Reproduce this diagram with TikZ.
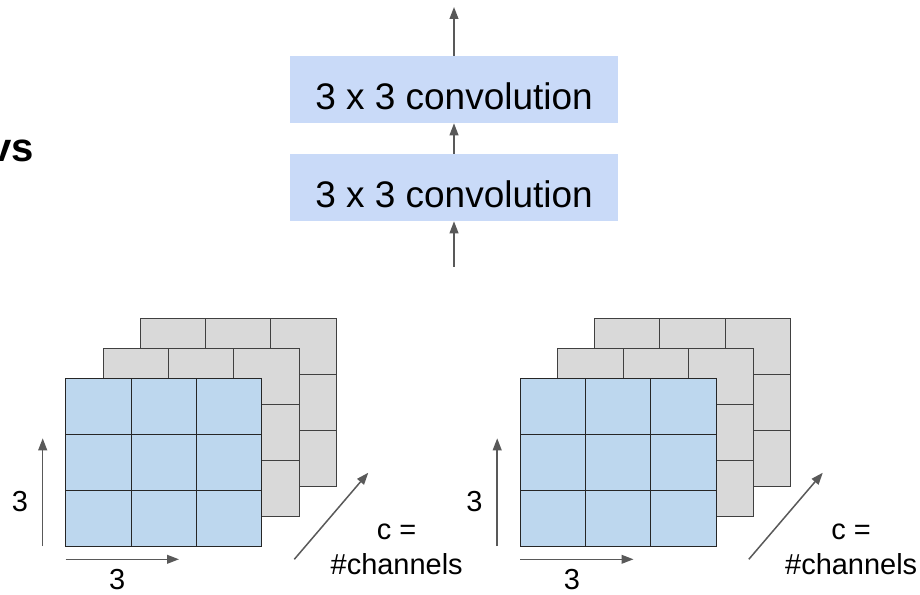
\documentclass[tikz,border=0pt]{standalone}
\usepackage{fontspec}
\setmainfont{Liberation Sans}
\usetikzlibrary{arrows.meta,positioning}
\definecolor{cConv}{HTML}{C9DAF8}
\definecolor{cFront}{HTML}{BDD7EE}
\definecolor{cBack}{HTML}{D9D9D9}
\definecolor{cEdge}{HTML}{595959}
\definecolor{cGrid}{HTML}{404040}
\tikzset{
  conv/.style ={fill=cConv, minimum width=82mm, minimum height=16.75mm,
                inner sep=0pt, text height=10.25mm, text depth=0pt,
                font=\fontsize{26.3}{30}\selectfont},
  flow/.style ={-{Triangle[length=3mm,width=2.2mm]}, line width=0.375mm, draw=cEdge},
  lbl/.style  ={font=\fontsize{20.6}{24.9}\selectfont, inner sep=0pt, align=center},
  ttl/.style  ={font=\bfseries\fontsize{28.5}{32}\selectfont, inner sep=0pt},
  back/.style ={fill=cBack, draw=cGrid, line width=0.25mm},
  front/.style={fill=cFront, draw=black!85, line width=0.25mm},
}
% one 3x3 feature map: top-left x, top-left y, style
\newcommand{\fmap}[3]{%
  \draw[#3] (#1,#2) rectangle ++(196,167.7);
  \foreach \k in {1,2} {
    \draw[#3, fill=none] (#1+\k*65.33,#2) -- ++(0,167.7);
    \draw[#3, fill=none] (#1,#2+\k*55.9) -- ++(196,0);
  }}

\begin{document}
\begin{tikzpicture}[x=0.25mm, y=-0.25mm]
  \useasboundingbox (0,0) rectangle (920,595);

  % ---- cropped heading ----
  \node[ttl, anchor=base east] (ttl) at (34,162) {vs};

  % ---- stacked convolutions ----
  \node[conv] (conv2) at (454,187.5) {3 x 3 convolution};
  \node[conv] (conv1) at (454,89.5) {3 x 3 convolution};
  \coordinate (inlet) at (454,267);
  \coordinate (outlet) at (454,7);

  \draw[flow] (inlet) -- (conv2.south);
  \draw[flow] (conv2.north) -- (conv1.south);
  \draw[flow] (conv1.north) -- (outlet);

  % ---- two 3x3xc receptive fields ----
  \foreach \gx/\g in {0/a, 454.5/b} {
    \fmap{140+\gx}{319}{back}
    \fmap{103.3+\gx}{348.3}{back}
    \fmap{65.7+\gx}{378.3}{front}

    \coordinate (h\g0) at (65.7+\gx,559.3);
    \coordinate (h\g1) at (179+\gx,559.3);
    \coordinate (v\g0) at (42.7+\gx,546);
    \coordinate (v\g1) at (42.7+\gx,438.3);
    \coordinate (d\g0) at (294.3+\gx,559.3);
    \coordinate (d\g1) at (368.3+\gx,472.7);
    \draw[flow] (h\g0) -- (h\g1);
    \draw[flow] (v\g0) -- (v\g1);
    \draw[flow] (d\g0) -- (d\g1);

    \node[lbl] (wd\g) at (117.3+\gx,580) {3};
    \node[lbl] (ht\g) at (20+\gx,501.7) {3};
    \node[lbl] (ch\g) at (396.7+\gx,549) {c =\\\#channels};
  }

\end{tikzpicture}
\end{document}
